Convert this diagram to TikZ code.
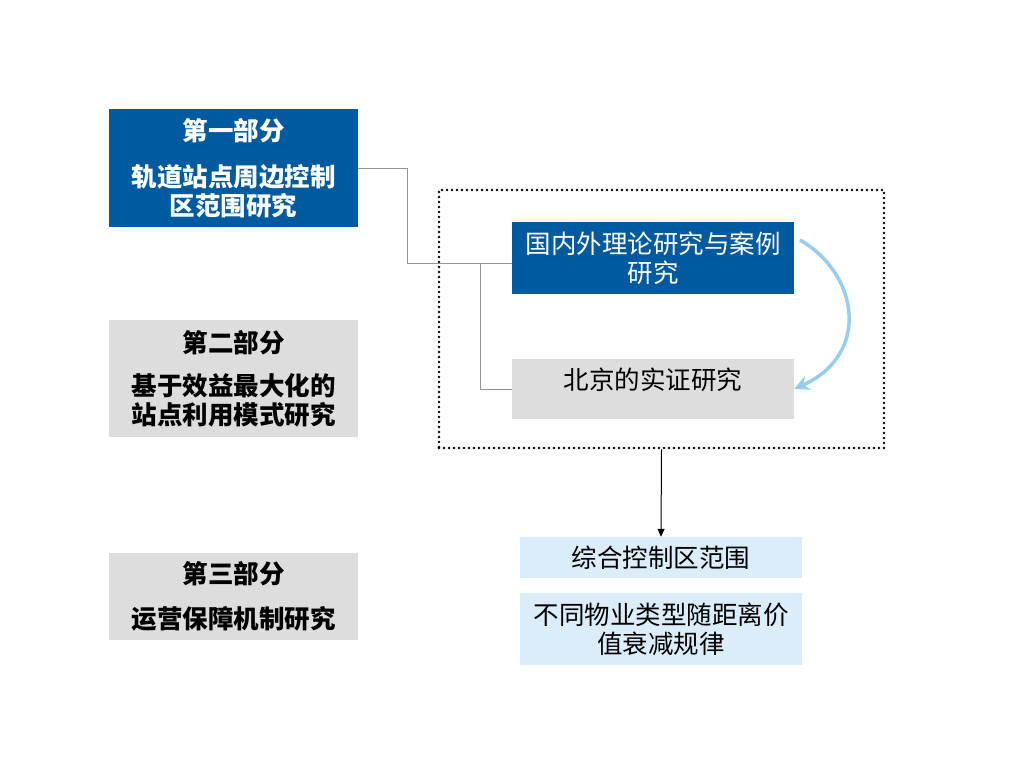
\documentclass[tikz,border=0pt]{standalone}
\usepackage{fontspec}
\setmainfont{Noto Sans CJK SC}
\usetikzlibrary{arrows.meta}
\definecolor{dblue}{RGB}{0,90,160}
\definecolor{lgray}{RGB}{221,221,221}
\definecolor{lblue}{RGB}{220,237,250}
\definecolor{cblue}{RGB}{150,205,240}
\definecolor{lnk}{RGB}{150,150,150}
\tikzset{
  box/.style={rectangle, inner sep=0pt, align=center, font=\fontsize{25.5pt}{29pt}\selectfont},
  boldtxt/.style={font=\fontsize{25.5pt}{29pt}\selectfont\bfseries},
  bluebox/.style={box, fill=dblue, text=white},
  graybox/.style={box, fill=lgray, text=black},
  lbluebox/.style={box, fill=lblue, text=black},
  link/.style={draw=lnk, line width=1pt},
}
\begin{document}
\begin{tikzpicture}[x=1pt,y=-1pt]
\useasboundingbox (0,0) rectangle (1024,768);
% left column
\node[bluebox, boldtxt, minimum width=249pt, minimum height=118pt] (p1) at (233.5,168) {第一部分\\[17pt]轨道站点周边控制\\区范围研究};
\node[graybox, boldtxt, minimum width=249pt, minimum height=117pt] (p2) at (233.5,378.5) {第二部分\\[14pt]基于效益最大化的\\站点利用模式研究};
\node[graybox, boldtxt, minimum width=249pt, minimum height=87pt] (p3) at (233.5,596.5) {第三部分\\[16pt]运营保障机制研究};
% dotted frame
\node[draw=black, line width=2.6pt, line cap=round, dash pattern=on 0pt off 5pt, minimum width=445pt, minimum height=258pt, inner sep=0pt] (frame) at (661.5,319) {};
% right boxes
\node[bluebox, minimum width=282pt, minimum height=72pt] (theory) at (653,258) {国内外理论研究与案例\\研究};
\node[graybox, minimum width=282pt, minimum height=60pt] (bj) at (653,389) {};
\node[box] (bjt) at (653,380) {北京的实证研究};
\node[lbluebox, minimum width=282pt, minimum height=41pt] (r1) at (661,557.5) {综合控制区范围};
\node[lbluebox, minimum width=282pt, minimum height=72pt] (r2) at (661,629) {不同物业类型随距离价\\值衰减规律};
% connectors
\coordinate (j1) at (407,263);
\coordinate (j2) at (480,263);
\draw[link] (p1.east) -| (j1) -- (j1 -| theory.west);
\draw[link] (j2) |- (bj.west);
\draw[line width=1pt, -{Triangle[length=8pt,width=7pt]}] (frame.south) -- (r1.north);
\draw[cblue, line width=3.5pt, -{Stealth[length=15pt,width=15pt]}] (800,240) .. controls (860,275) and (870,355) .. (bj.east);
\end{tikzpicture}
\end{document}
